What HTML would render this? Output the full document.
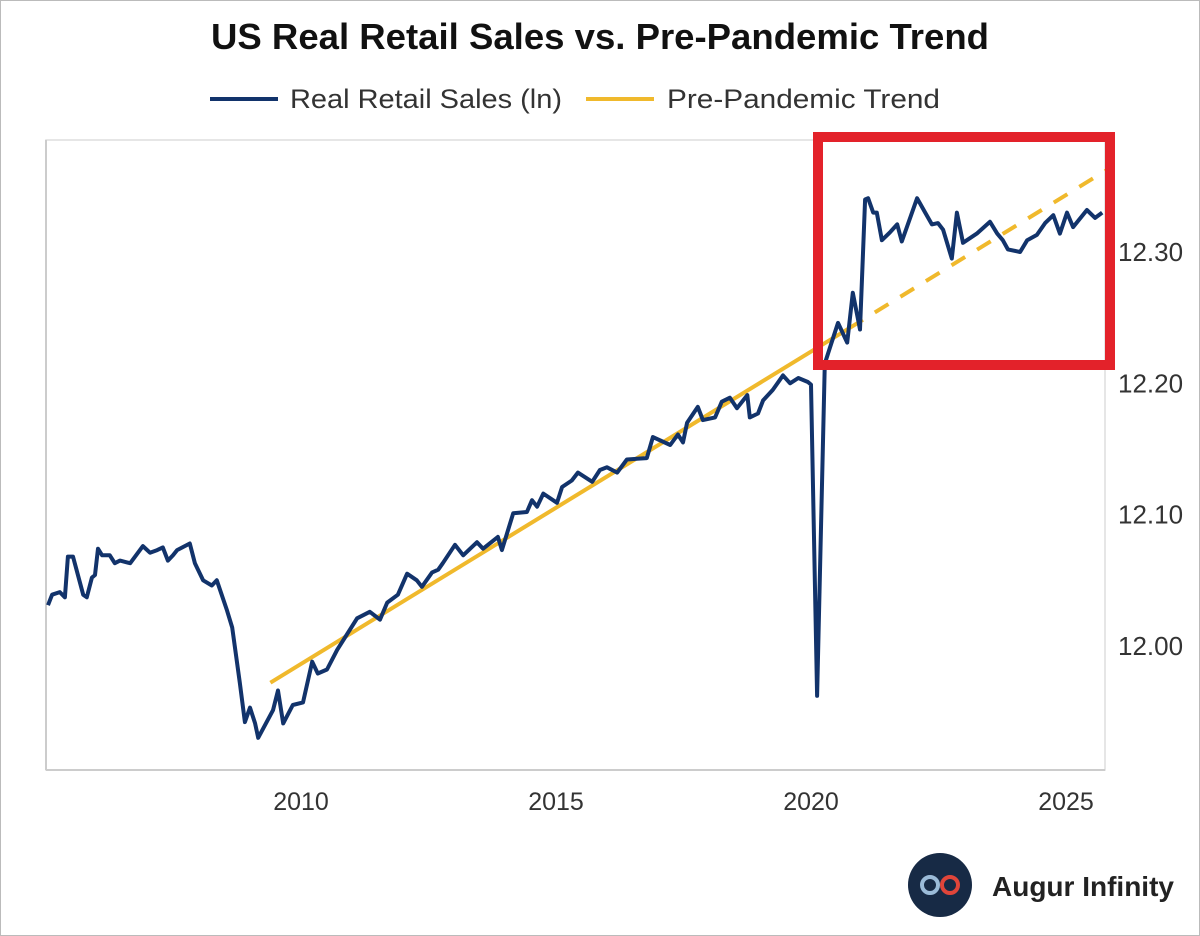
<!DOCTYPE html>
<html><head><meta charset="utf-8"><style>
html,body{margin:0;padding:0;background:#fff;}
svg{display:block;font-family:"Liberation Sans","DejaVu Sans",sans-serif;}
</style></head><body>
<svg id="chart" width="1200" height="936" viewBox="0 0 1200 936">
<rect x="0.5" y="0.5" width="1199" height="935" fill="#fff" stroke="#bbb"/>
<text x="600" y="49" text-anchor="middle" font-size="36" font-weight="bold" fill="#111" textLength="778" lengthAdjust="spacingAndGlyphs">US Real Retail Sales vs. Pre-Pandemic Trend</text>
<g>
<g><line x1="210" y1="99" x2="278" y2="99" stroke="#12336b" stroke-width="4"/><text x="290" y="108" font-size="27" fill="#333" textLength="272" lengthAdjust="spacingAndGlyphs">Real Retail Sales (ln)</text></g>
<g><line x1="586" y1="99" x2="654" y2="99" stroke="#f0b92c" stroke-width="4"/><text x="667" y="108" font-size="27" fill="#333" textLength="273" lengthAdjust="spacingAndGlyphs">Pre-Pandemic Trend</text></g>
</g>
<rect x="46" y="140" width="1059" height="630" fill="none" stroke="#ddd" stroke-width="1.5"/>
<line x1="46" y1="140" x2="46" y2="770" stroke="#ccc" stroke-width="2"/>
<line x1="46" y1="770" x2="1105" y2="770" stroke="#ccc" stroke-width="2"/>
<g id="xticks"></g>
<g id="yticks"></g>
<g id="series"></g>
<rect x="818" y="137" width="292" height="228" fill="none" stroke="#e3222a" stroke-width="10"/>
<g>
<circle cx="940" cy="885" r="32" fill="#172a45"/>
<circle cx="930" cy="885" r="8" fill="none" stroke="#9bbbd8" stroke-width="4"/>
<circle cx="950" cy="885" r="8" fill="none" stroke="#e0453a" stroke-width="4"/>
<text x="992" y="896" font-size="28" font-weight="bold" fill="#222">Augur Infinity</text>
</g>
</svg>
<script>
const salesYears=[2005.04,2005.12,2005.27,2005.37,2005.43,2005.53,2005.73,2005.80,2005.90,2005.96,2006.02,2006.10,2006.25,2006.35,2006.45,2006.65,2006.90,2007.04,2007.18,2007.29,2007.39,2007.49,2007.57,2007.82,2007.92,2008.08,2008.25,2008.35,2008.55,2008.65,2008.80,2008.90,2009.00,2009.10,2009.16,2009.45,2009.55,2009.65,2009.84,2010.04,2010.22,2010.33,2010.51,2010.71,2011.10,2011.35,2011.55,2011.69,2011.90,2012.08,2012.27,2012.37,2012.57,2012.69,2012.78,2013.02,2013.18,2013.45,2013.57,2013.86,2013.94,2014.16,2014.43,2014.53,2014.63,2014.75,2015.02,2015.12,2015.31,2015.43,2015.71,2015.86,2016.00,2016.20,2016.39,2016.78,2016.90,2017.24,2017.39,2017.49,2017.57,2017.78,2017.88,2018.12,2018.25,2018.41,2018.55,2018.75,2018.80,2018.96,2019.06,2019.25,2019.45,2019.59,2019.75,2019.94,2020.00,2020.12,2020.27,2020.37,2020.53,2020.71,2020.82,2020.96,2021.06,2021.12,2021.22,2021.29,2021.39,2021.55,2021.69,2021.78,2022.08,2022.24,2022.37,2022.49,2022.59,2022.76,2022.86,2022.98,2023.25,2023.51,2023.65,2023.76,2023.86,2024.10,2024.24,2024.43,2024.59,2024.75,2024.88,2025.02,2025.14,2025.41,2025.57,2025.71];
const salesValues=[12.031,12.039,12.041,12.037,12.068,12.068,12.039,12.037,12.052,12.054,12.074,12.069,12.069,12.063,12.065,12.063,12.076,12.071,12.073,12.075,12.065,12.069,12.073,12.078,12.063,12.050,12.046,12.050,12.027,12.014,11.972,11.942,11.953,11.941,11.930,11.951,11.966,11.941,11.955,11.957,11.988,11.979,11.982,11.997,12.021,12.026,12.020,12.033,12.039,12.055,12.050,12.045,12.056,12.058,12.063,12.077,12.069,12.079,12.074,12.083,12.073,12.101,12.102,12.111,12.106,12.116,12.109,12.121,12.126,12.132,12.125,12.134,12.136,12.132,12.142,12.143,12.159,12.153,12.161,12.155,12.170,12.182,12.172,12.174,12.186,12.189,12.181,12.191,12.174,12.177,12.187,12.195,12.206,12.200,12.204,12.201,12.199,11.962,12.215,12.227,12.246,12.231,12.269,12.241,12.340,12.341,12.330,12.330,12.309,12.315,12.321,12.308,12.341,12.330,12.321,12.322,12.317,12.295,12.330,12.307,12.314,12.323,12.314,12.309,12.302,12.300,12.309,12.313,12.322,12.328,12.314,12.330,12.319,12.332,12.326,12.330];
const trendYears=[2009.40,2020.75,2025.78];
const trendValues=[11.972,12.242,12.362];
const xTickYears=[2010,2015,2020,2025];
const xTickLabels=["2010","2015","2020","2025"];
const yTickValues=[12.00,12.10,12.20,12.30];
const yTickLabels=["12.00","12.10","12.20","12.30"];

const NS="http://www.w3.org/2000/svg";
function xs(yr){return 46+(yr-2005)*51;}
function ys(v){return 252-(v-12.30)*1313;}
const series=document.getElementById('series');
function mk(tag,attrs,parent){const e=document.createElementNS(NS,tag);for(const k in attrs)e.setAttribute(k,attrs[k]);parent.appendChild(e);return e;}

const xt=document.getElementById('xticks');
xTickYears.forEach((yr,i)=>{const t=mk('text',{x:xs(yr),y:810,'text-anchor':'middle','font-size':25,fill:'#333'},xt);t.textContent=xTickLabels[i];

});
const yt=document.getElementById('yticks');
yTickValues.forEach((v,i)=>{const t=mk('text',{x:1118,y:ys(v)+9,'font-size':26,fill:'#333'},yt);t.textContent=yTickLabels[i];

});

const t1=mk('line',{x1:xs(trendYears[0]),y1:ys(trendValues[0]),x2:xs(trendYears[1]),y2:ys(trendValues[1]),stroke:'#f0b92c','stroke-width':4},series);


const t2=mk('line',{x1:xs(trendYears[1]),y1:ys(trendValues[1]),x2:xs(trendYears[2]),y2:ys(trendValues[2]),stroke:'#f0b92c','stroke-width':4,'stroke-dasharray':'16 14'},series);



let d='';salesYears.forEach((yr,i)=>{d+=(i?'L':'M')+xs(yr).toFixed(1)+' '+ys(salesValues[i]).toFixed(1);});
const p=mk('path',{d:d,fill:'none',stroke:'#12336b','stroke-width':4,'stroke-linejoin':'round'},series);


</script>
</body></html>
